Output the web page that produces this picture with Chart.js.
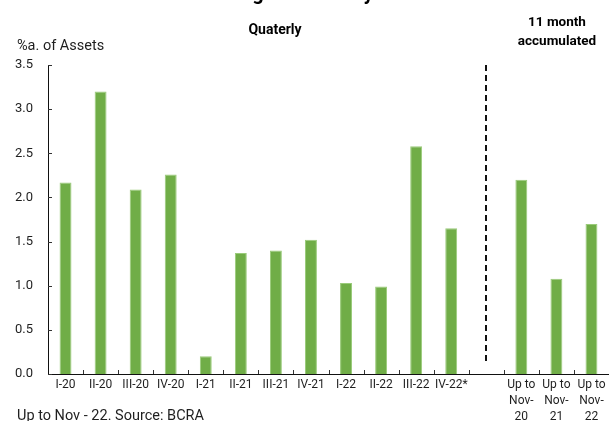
<!DOCTYPE html>
<html>
<head>
<meta charset="utf-8">
<script src="https://cdn.jsdelivr.net/npm/chart.js@4.4.0/dist/chart.umd.min.js"></script>
<style>
  html, body { margin: 0; padding: 0; background: #fff; }
  #wrap { position: relative; width: 609px; height: 421px; }
</style>
</head>
<body>
<div id="wrap"><canvas id="c" width="609" height="421"></canvas></div>
<script>
const categories = ['I-20','II-20','III-20','IV-20','I-21','II-21','III-21','IV-21','I-22','II-22','III-22','IV-22*','',
  ['Up to','Nov-','20'], ['Up to','Nov-','21'], ['Up to','Nov-','22']];
const values = [2.17, 3.20, 2.09, 2.26, 0.20, 1.37, 1.40, 1.52, 1.03, 0.99, 2.58, 1.65, null, 2.20, 1.08, 1.70];
const yTicks = [0, 0.5, 1.0, 1.5, 2.0, 2.5, 3.0, 3.5];
const dividerIndex = 12;

const TEXT = '#1f1f1f';
const FONT = 'Roboto';

const overlay = {
  id: 'overlay',
  afterDraw(chart) {
    const ctx = chart.ctx;
    const x = chart.scales.x, y = chart.scales.y;
    const area = chart.chartArea;
    ctx.save();
    // inside ticks
    ctx.strokeStyle = '#333';
    ctx.lineWidth = 1;
    ctx.beginPath();
    yTicks.forEach(v => {
      const py = Math.round(y.getPixelForValue(v)) + 0.5;
      ctx.moveTo(area.left, py); ctx.lineTo(area.left + 4, py);
    });
    for (let i = 1; i <= categories.length; i++) {
      const px = Math.round(x.getPixelForValue(i - 0.5)) + 0.5;
      ctx.moveTo(px, area.bottom); ctx.lineTo(px, area.bottom - 4);
    }
    ctx.stroke();
    // dashed divider
    const dx = Math.round(x.getPixelForValue(dividerIndex));
    ctx.strokeStyle = '#111';
    ctx.lineWidth = 2;
    ctx.setLineDash([6, 4]);
    ctx.beginPath();
    ctx.moveTo(dx, y.getPixelForValue(3.5));
    ctx.lineTo(dx, y.getPixelForValue(0.14));
    ctx.stroke();
    ctx.setLineDash([]);
    // texts
    ctx.fillStyle = '#000';
    ctx.textAlign = 'center';
    ctx.textBaseline = 'alphabetic';
    ctx.font = 'bold 20px ' + FONT;
    ctx.fillText('Banking Profitability', 282, 0);
    ctx.font = 'bold 14px ' + FONT;
    ctx.textBaseline = 'middle';
    ctx.fillText('Quaterly', 275, 30);
    ctx.font = 'bold 13.5px ' + FONT;
    ctx.fillText('11 month', 557, 23);
    ctx.fillText('accumulated', 557, 42);
    ctx.fillStyle = TEXT;
    ctx.font = '14.5px ' + FONT;
    ctx.textAlign = 'left';
    ctx.fillText('%a. of Assets', 17, 46);
    ctx.fillText('Up to Nov - 22. Source: BCRA', 17, 416);
    ctx.restore();
  }
};

new Chart(document.getElementById('c'), {
  type: 'bar',
  data: {
    labels: categories,
    datasets: [{
      data: values,
      backgroundColor: '#70AD47',
      borderColor: '#9ACB7A',
      borderWidth: 1,
      categoryPercentage: 1,
      barPercentage: 0.34
    }]
  },
  options: {
    responsive: false,
    animation: false,
    layout: { padding: { top: 65, left: 0, right: 0, bottom: 0 } },
    plugins: { legend: { display: false }, tooltip: { enabled: false } },
    scales: {
      x: {
        grid: { display: false, drawTicks: false, tickLength: 0 },
        border: { display: true, color: '#111', width: 1 },
        ticks: {
          color: TEXT, font: { family: FONT, size: 12, lineHeight: 1.33 }, maxRotation: 0, autoSkip: false,
          padding: 3
        },
        afterFit(s) { s.height = 47; }
      },
      y: {
        min: 0, max: 3.5,
        afterBuildTicks(s) { s.ticks = yTicks.map(v => ({ value: v })); },
        grid: { display: false, drawTicks: false, tickLength: 0 },
        border: { display: true, color: '#111', width: 1 },
        ticks: {
          color: TEXT, font: { family: FONT, size: 13 }, padding: 15,
          callback: v => Number(v).toFixed(1)
        },
        afterFit(s) { s.width = 48; }
      }
    }
  },
  plugins: [overlay]
});
</script>
</body>
</html>
